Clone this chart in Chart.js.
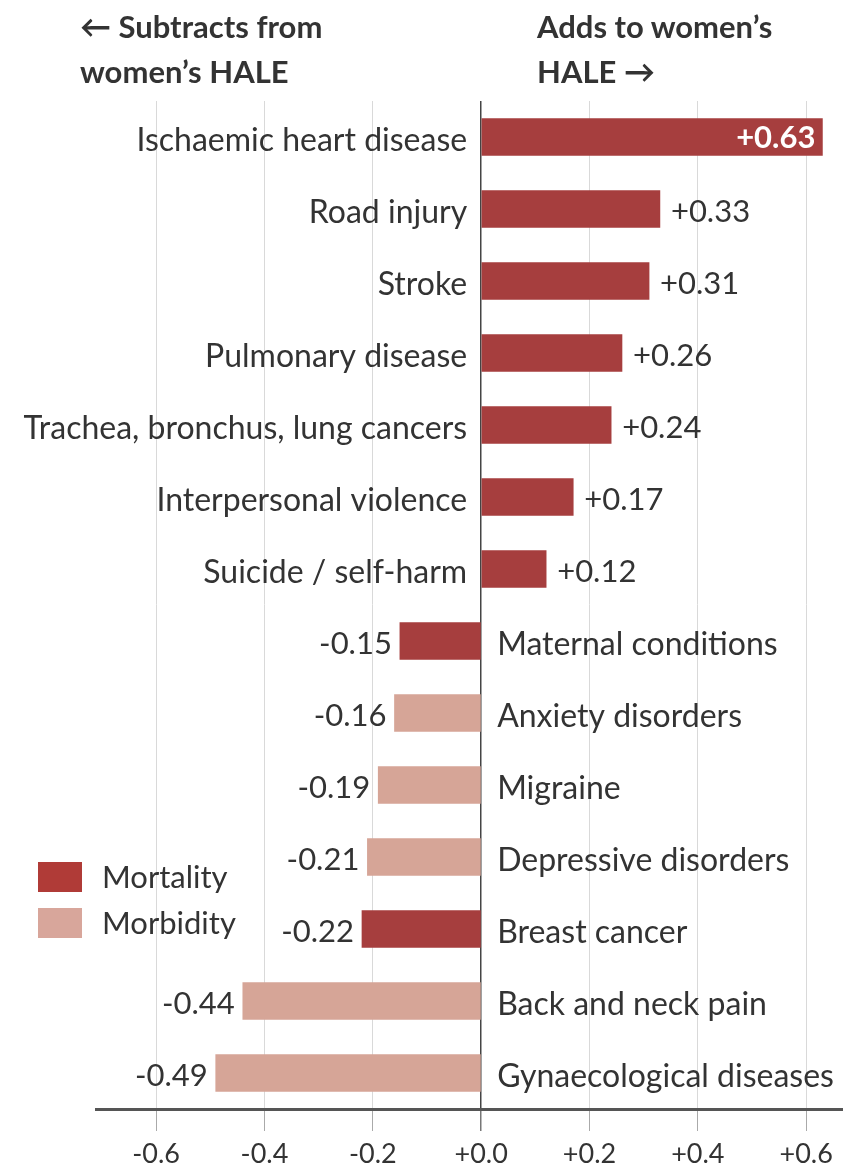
<!DOCTYPE html>
<html>
<head>
<meta charset="utf-8">
<script src="https://cdn.jsdelivr.net/npm/chart.js@4.4.1/dist/chart.umd.min.js"></script>
<style>
  html, body { margin: 0; padding: 0; background: #fff; }
  #wrap { position: relative; width: 843px; height: 1169px; overflow: hidden; }
  #c { position: absolute; left: 0; top: 0; }
  .title { position: absolute; font-family: Lato, sans-serif; font-weight: 700; font-size: 31px; line-height: 45px; color: #333; }
  .leg { position: absolute; font-family: Lato, sans-serif; font-size: 31px; line-height: 36px; color: #333; }
  .sw { position: absolute; width: 44px; height: 30px; }
</style>
</head>
<body>
<div id="wrap">
  <canvas id="c" width="843" height="1169"></canvas>
  <div class="title" style="left:80px; top:4px;">← Subtracts from<br>women’s HALE</div>
  <div class="title" style="left:537px; top:4px;">Adds to women’s<br>HALE →</div>
  <div class="sw" style="left:38px; top:862px; background:#b03b37;"></div>
  <div class="leg" style="left:102px; top:858px;">Mortality</div>
  <div class="sw" style="left:38px; top:908px; background:#d8a69b;"></div>
  <div class="leg" style="left:102px; top:904px;">Morbidity</div>
</div>
<script>
const categories = [
  "Ischaemic heart disease",
  "Road injury",
  "Stroke",
  "Pulmonary disease",
  "Trachea, bronchus, lung cancers",
  "Interpersonal violence",
  "Suicide / self-harm",
  "Maternal conditions",
  "Anxiety disorders",
  "Migraine",
  "Depressive disorders",
  "Breast cancer",
  "Back and neck pain",
  "Gynaecological diseases"
];
const values = [0.63, 0.33, 0.31, 0.26, 0.24, 0.17, 0.12, -0.15, -0.16, -0.19, -0.21, -0.22, -0.44, -0.49];
const types = ["Mortality","Mortality","Mortality","Mortality","Mortality","Mortality","Mortality",
               "Mortality","Morbidity","Morbidity","Morbidity","Mortality","Morbidity","Morbidity"];
const seriesNames = ["Mortality", "Morbidity"];
const tickValues = [-0.6, -0.4, -0.2, 0.0, 0.2, 0.4, 0.6];

const colors = { Mortality: "#a63e3e", Morbidity: "#d6a597" };
const FONT = "Lato, sans-serif";

const datasets = seriesNames.map(name => ({
  label: name,
  data: values.map((v, i) => types[i] === name ? v : null),
  backgroundColor: colors[name],
  borderWidth: 0,
  barThickness: 37
}));

function fmt(v) {
  const s = Math.abs(v).toFixed(2);
  return (v >= 0 ? "+" : "-") + s;
}

const labelPlugin = {
  id: "labels",
  afterDatasetsDraw(chart) {
    const ctx = chart.ctx;
    const x0 = chart.scales.x.getPixelForValue(0);
    const maxV = Math.max(...values);
    ctx.save();
    values.forEach((v, i) => {
      const di = seriesNames.indexOf(types[i]);
      const el = chart.getDatasetMeta(di).data[i];
      if (!el) return;
      const y = el.y;
      ctx.textBaseline = "middle";
      // category label
      ctx.font = "32px " + FONT;
      ctx.fillStyle = "#333";
      if (v >= 0) {
        ctx.textAlign = "right";
        ctx.fillText(categories[i], x0 - 14, y + 4);
      } else {
        ctx.textAlign = "left";
        ctx.fillText(categories[i], x0 + 16, y + 4);
      }
      // value label
      if (v === maxV) {
        ctx.font = "bold 31px " + FONT;
        ctx.fillStyle = "#fff";
        ctx.textAlign = "right";
        ctx.fillText(fmt(v), el.x - 7, y + 1);
      } else if (v >= 0) {
        ctx.font = "31px " + FONT;
        ctx.fillStyle = "#333";
        ctx.textAlign = "left";
        ctx.fillText(fmt(v), el.x + 11, y + 3);
      } else {
        ctx.font = "31px " + FONT;
        ctx.fillStyle = "#333";
        ctx.textAlign = "right";
        ctx.fillText(fmt(v), el.x - 8, y + 3);
      }
    });
    ctx.restore();
  }
};

new Chart(document.getElementById("c"), {
  type: "bar",
  data: { labels: categories, datasets },
  options: {
    indexAxis: "y",
    responsive: false,
    animation: false,
    layout: { padding: { top: 101, left: 96, right: 0, bottom: 0 } },
    plugins: { legend: { display: false }, tooltip: { enabled: false } },
    scales: {
      y: {
        display: false,
        stacked: true,
        offset: true
      },
      x: {
        stacked: true,
        min: -0.711,
        max: 0.668,
        afterBuildTicks(scale) { scale.ticks = tickValues.map(v => ({ value: v })); },
        afterFit(scale) { scale.height = 60; },
        border: { display: true, color: "#555", width: 3 },
        grid: {
          color: c => (c.tick && c.tick.value === 0) ? "#444" : "#d9d9d9",
          lineWidth: c => (c.tick && c.tick.value === 0) ? 1.5 : 1,
          tickColor: c => (c.tick && c.tick.value === 0) ? "#777" : "#aaa",
          tickLength: 22,
          drawTicks: true
        },
        ticks: {
          padding: 7,
          color: "#333",
          font: { family: FONT, size: 27 },
          maxRotation: 0,
          autoSkip: false,
          callback: v => (v >= 0 ? "+" : "-") + Math.abs(v).toFixed(1)
        }
      }
    }
  },
  plugins: [labelPlugin]
});
</script>
</body>
</html>
